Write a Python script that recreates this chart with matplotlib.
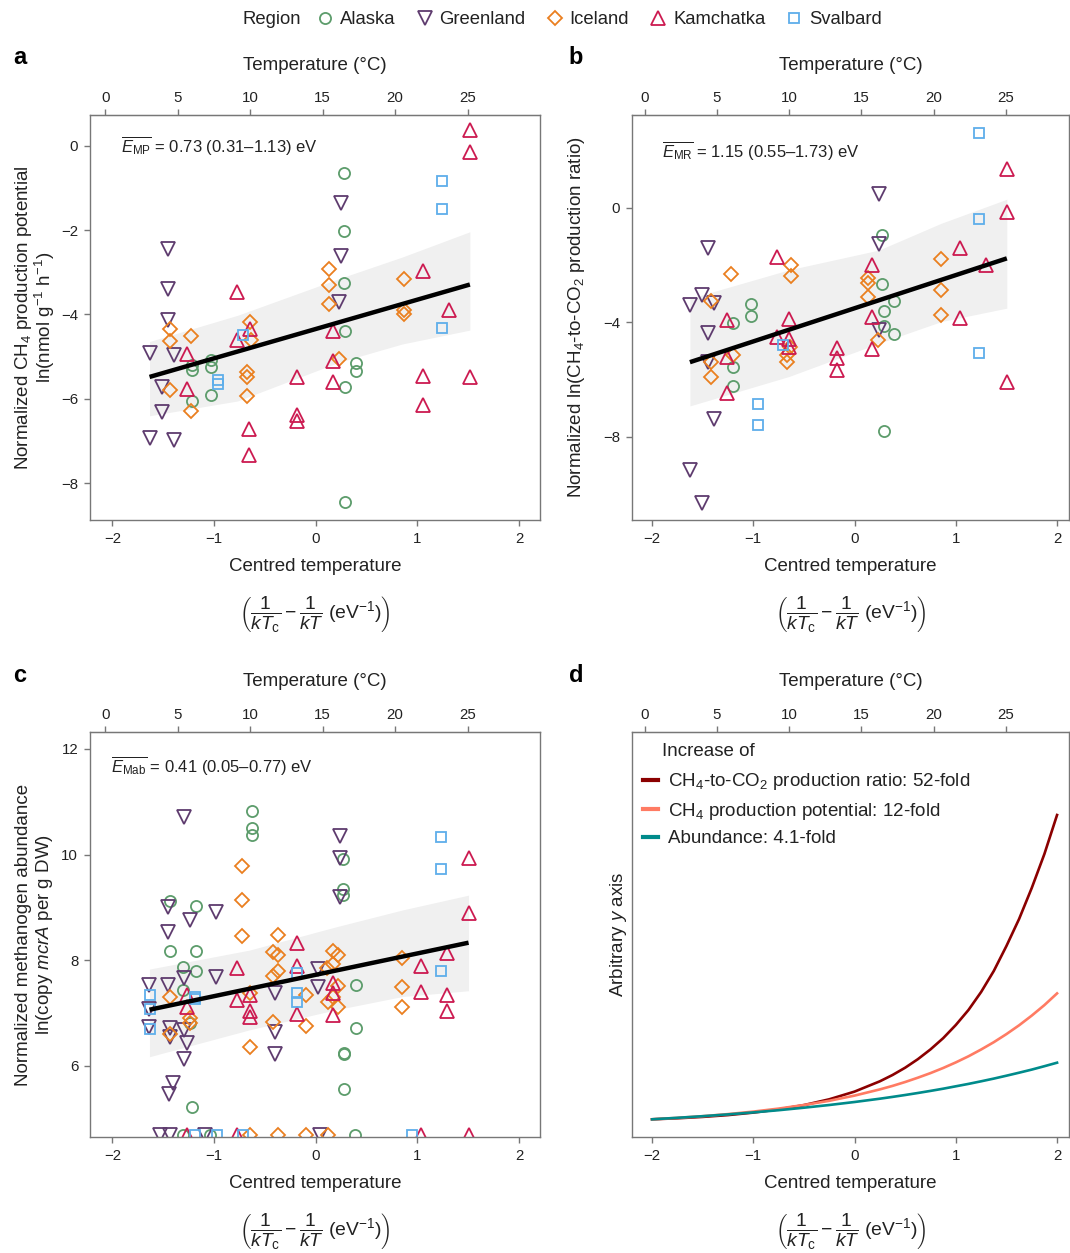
import numpy as np
import matplotlib
matplotlib.use("Agg")
import matplotlib.pyplot as plt
from matplotlib.lines import Line2D

plt.rcParams['font.family'] = ['Liberation Sans', 'DejaVu Sans']
plt.rcParams['mathtext.fontset'] = 'custom'
plt.rcParams['mathtext.rm'] = 'Liberation Sans'
plt.rcParams['mathtext.it'] = 'Liberation Sans:italic'
plt.rcParams['mathtext.bf'] = 'Liberation Sans:bold'

# ---------------- data ----------------
regions = ['Alaska', 'Greenland', 'Iceland', 'Kamchatka', 'Svalbard']

# panel a: CH4 production potential
a_alaska_x = [0.279, 0.279, 0.279, 0.289, 0.394, 0.394, 0.289, 0.289, -1.215, -1.215, -1.034, -1.034, -1.034, -1.215]
a_alaska_y = [-0.65, -2.02, -3.25, -4.40, -5.16, -5.33, -5.73, -8.45, -5.19, -5.31, -5.08, -5.24, -5.90, -6.06]
a_greenland_x = [-1.455, -1.455, -1.455, -1.635, -1.396, -1.517, -1.517, -1.635, -1.396, 0.246, 0.246, 0.230]
a_greenland_y = [-2.46, -3.40, -4.14, -4.92, -4.95, -5.71, -6.30, -6.92, -6.98, -1.36, -2.61, -3.71]
a_iceland_x = [-1.429, -1.429, -1.232, -1.429, -1.232, -0.647, -0.637, -0.673, -0.673, -0.673, 0.131, 0.131, 0.131, 0.230, 0.864, 0.864, 0.864]
a_iceland_y = [-4.34, -4.62, -4.52, -5.79, -6.29, -4.18, -4.60, -5.36, -5.47, -5.93, -2.93, -3.29, -3.75, -5.06, -3.15, -3.89, -4.00]
a_kamchatka_x = [1.517, 1.517, 1.051, 1.307, -0.772, -0.647, -0.772, -1.271, -1.271, -0.660, -0.660, -0.181, -0.181, -0.181, 0.174, 0.174, 0.174, 1.051, 1.051, 1.517]
a_kamchatka_y = [0.36, -0.14, -2.97, -3.90, -3.47, -4.34, -4.60, -4.94, -5.77, -6.71, -7.32, -5.49, -6.38, -6.52, -4.38, -5.11, -5.61, -5.45, -6.14, -5.47]
a_svalbard_x = [1.241, 1.241, 1.241, -0.712, -0.959, -0.959]
a_svalbard_y = [-0.83, -1.51, -4.32, -4.48, -5.56, -5.65]
a_fit_x = [-1.635, 1.517]
a_fit_y = [-5.48, -3.29]
a_band_x = [-1.635, -0.77, 0.23, 0.85, 1.517]
a_band_hi = [-4.64, -4.02, -3.15, -2.64, -2.04]
a_band_lo = [-6.40, -6.05, -5.13, -4.70, -4.37]

# panel b: CH4-to-CO2 production ratio
b_alaska_x = [0.273, 0.273, 0.394, 0.289, 0.289, 0.394, 0.289, -1.025, -1.025, -1.205, -1.205, -1.205]
b_alaska_y = [-0.95, -2.66, -3.26, -3.61, -4.13, -4.41, -7.80, -3.36, -3.78, -4.04, -5.56, -6.25]
b_greenland_x = [-1.445, -1.506, -1.626, -1.386, -1.445, -1.445, -1.386, -1.626, -1.506, 0.240, 0.240, 0.240]
b_greenland_y = [-1.42, -3.05, -3.40, -3.34, -4.37, -5.38, -7.40, -9.17, -10.31, 0.47, -1.28, -4.27]
b_iceland_x = [-1.222, -1.419, -1.419, -1.419, -1.205, -0.631, -0.631, -0.637, -0.663, -0.663, 0.131, 0.131, 0.131, 0.230, 0.857, 0.857, 0.857]
b_iceland_y = [-2.31, -3.25, -5.38, -5.91, -5.15, -2.00, -2.37, -4.86, -5.15, -5.38, -2.47, -2.64, -3.11, -4.62, -1.79, -2.87, -3.75]
b_kamchatka_x = [1.504, 1.504, 1.044, 1.300, 1.044, 1.504, -0.762, -0.647, -0.762, -0.647, -0.647, -1.261, -1.261, -1.261, -0.177, -0.177, -0.177, 0.174, 0.174, 0.174]
b_kamchatka_y = [1.35, -0.14, -1.42, -2.00, -3.86, -6.08, -1.71, -3.90, -4.53, -4.60, -4.86, -3.92, -5.23, -6.49, -4.91, -5.26, -5.67, -2.00, -3.83, -4.95]
b_svalbard_x = [1.232, 1.232, 1.232, -0.706, -0.952, -0.952]
b_svalbard_y = [2.63, -0.40, -5.07, -4.80, -6.87, -7.59]
b_fit_x = [-1.626, 1.504]
b_fit_y = [-5.40, -1.77]
b_band_x = [-1.626, -0.647, 0.24, 0.857, 1.504]
b_band_hi = [-3.17, -2.17, -1.48, -0.54, 0.30]
b_band_lo = [-6.93, -5.90, -4.74, -3.98, -3.51]

# panel c: methanogen abundance (4.68 = points below the axis floor)
c_alaska_x = [-0.628, -0.628, -0.628, 0.271, 0.271, 0.271, 0.393, 0.393, 0.281, 0.281, 0.281, -1.430, -1.175, -1.430, -1.175, -1.305, -1.175, -1.305, -1.234, -1.217, -1.305, -1.037, 0.389]
c_alaska_y = [10.83, 10.51, 10.37, 9.91, 9.34, 9.23, 7.52, 6.71, 6.24, 6.22, 5.56, 9.11, 9.03, 8.17, 8.17, 7.87, 7.80, 7.44, 6.80, 5.21, 4.68, 4.68, 4.68]
c_greenland_x = [-1.292, 0.238, 0.238, 0.238, -1.456, -1.234, -0.978, -1.456, -1.292, -0.978, -1.456, -1.636, 0.026, 0.026, -0.399, -1.636, -1.636, -1.430, -1.292, -1.430, -1.266, -1.292, -0.399, -0.399, -1.404, -1.447, -1.528, -1.430, -1.086, 0.042]
c_greenland_y = [10.71, 10.35, 9.93, 9.19, 9.01, 8.76, 8.92, 8.53, 7.67, 7.68, 7.53, 7.53, 7.83, 7.50, 7.37, 7.07, 6.73, 6.71, 6.68, 6.55, 6.43, 6.12, 6.63, 6.22, 5.68, 5.47, 4.68, 4.68, 4.68, 4.68]
c_iceland_x = [-0.726, -0.726, -0.726, -0.367, -0.416, -0.367, -0.367, -0.416, 0.167, 0.222, 0.167, 0.108, 0.222, 0.167, 0.124, 0.222, -0.095, -0.095, -0.416, -0.645, -0.651, -1.430, -1.430, -1.234, -1.234, 0.854, 0.854, 0.854, -0.645, -0.367, -0.095, 0.124]
c_iceland_y = [9.78, 9.14, 8.46, 8.47, 8.16, 8.09, 7.80, 7.69, 8.18, 8.09, 7.92, 7.85, 7.51, 7.31, 7.21, 7.12, 7.34, 6.75, 6.82, 6.35, 7.37, 7.31, 6.60, 6.90, 6.80, 8.04, 7.49, 7.12, 4.68, 4.68, 4.68, 4.68]
c_kamchatka_x = [1.504, 1.504, 1.295, 1.040, 1.040, 1.295, 1.295, -0.187, -0.187, -0.187, 0.167, 0.167, 0.167, -0.775, -0.775, -0.651, -0.651, -0.651, -1.266, -1.266, -1.266, -0.775, 1.040, 1.504]
c_kamchatka_y = [9.93, 8.89, 8.14, 7.88, 7.40, 7.34, 7.04, 8.32, 7.88, 6.98, 7.56, 7.37, 6.96, 7.86, 7.25, 7.34, 7.03, 6.92, 7.34, 7.12, 4.68, 4.68, 4.68, 4.68]
c_svalbard_x = [1.230, 1.230, 1.230, -0.187, -0.187, -0.187, -1.626, -1.626, -1.626, -1.191, -1.191, -1.191, -0.972, -0.719, 0.952]
c_svalbard_y = [10.33, 9.72, 7.80, 7.75, 7.38, 7.21, 7.34, 7.07, 6.70, 7.31, 7.26, 4.68, 4.68, 4.68, 4.68]
c_fit_x = [-1.636, 1.504]
c_fit_y = [7.06, 8.33]
c_band_x = [-1.636, -0.651, 0.2, 0.854, 1.504]
c_band_hi = [7.83, 8.19, 8.63, 8.95, 9.23]
c_band_lo = [6.17, 6.68, 7.06, 7.31, 7.42]

# panel d: relative increase curves (arbitrary units)
d_x = [-2, -1.75, -1.5, -1.25, -1, -0.75, -0.5, -0.25, 0, 0.25, 0.375, 0.5, 0.625, 0.75, 0.875, 1,
       1.125, 1.25, 1.375, 1.5, 1.625, 1.75, 1.875, 2]
d_ratio = [17.7, 18.7, 20.1, 21.9, 24.4, 27.6, 31.9, 37.7, 45.4, 55.7, 62.0, 69.3, 77.8, 87.6, 98.8, 112,
           127, 145, 166, 191, 218, 249, 283, 322]
d_potential = [17.7, 19.1, 20.8, 22.9, 25.4, 28.4, 32.0, 36.2, 41.4, 47.6, 51.1, 55.0, 59.3, 63.9, 69.0, 74.6,
               80.7, 87.5, 94.8, 102.9, 111.7, 121.4, 131.9, 143.6]
d_abundance = [17.7, 19.2, 20.8, 22.6, 24.6, 26.8, 29.3, 32.0, 35.0, 38.3, 40.1, 42.0, 44.0, 46.1, 48.3, 50.7,
               53.1, 55.7, 58.4, 61.3, 64.3, 67.4, 70.8, 74.3]
d_labels = [r'CH$_4$-to-CO$_2$ production ratio: 52-fold',
            r'CH$_4$ production potential: 12-fold',
            'Abundance: 4.1-fold']

x_ticks = [-2, -1, 0, 1, 2]
temp_ticks = [0, 5, 10, 15, 20, 25]
T_INTERCEPT = -2.072
T_SLOPE = 0.1427

# ---------------- style ----------------
colors = {'Alaska': '#5c9c6b', 'Greenland': '#5e3b6e', 'Iceland': '#ea7f1f',
          'Kamchatka': '#cc1a50', 'Svalbard': '#5eaeea'}
markers = {'Alaska': 'o', 'Greenland': 'v', 'Iceland': 'D', 'Kamchatka': '^', 'Svalbard': 's'}
msizes = {'Alaska': 8.0, 'Greenland': 9.5, 'Iceland': 6.9, 'Kamchatka': 9.5, 'Svalbard': 7.3}
d_colors = ['#8b0000', '#ff7b63', '#008b8b']
SPINE = '#777777'
TXT = '#222222'
LBL = 13.5
TCK = 10.8

W, H = 1070, 1253
fig = plt.figure(figsize=(W / 100, H / 100), dpi=100)


def box(left, top, right, bottom):
    return [left / W, 1 - bottom / H, (right - left) / W, (bottom - top) / H]


ax_a = fig.add_axes(box(90, 115, 540, 520))
ax_b = fig.add_axes(box(632, 115, 1069, 520))
ax_c = fig.add_axes(box(90, 732, 540, 1137))
ax_d = fig.add_axes(box(632, 732, 1069, 1137))


def c2t(x):
    return (np.asarray(x) - T_INTERCEPT) / T_SLOPE


def t2c(t):
    return T_INTERCEPT + T_SLOPE * np.asarray(t)


def style_axes(ax, xlim, ylim, yticks):
    ax.set_xlim(*xlim)
    ax.set_ylim(*ylim)
    ax.set_xticks(x_ticks)
    if yticks is None:
        ax.set_yticks([])
    else:
        ax.set_yticks(yticks)
    for s in ax.spines.values():
        s.set_color(SPINE)
        s.set_linewidth(1.0)
    ax.tick_params(direction='out', length=4.5, width=1.0, color=SPINE,
                   labelsize=TCK, labelcolor=TXT, pad=4)
    ax.set_xlabel('Centred temperature', fontsize=LBL, color=TXT)
    ax.xaxis.set_label_coords(0.5, -0.093)
    ax.text(0.5, -0.232, r'$\left(\dfrac{1}{kT_{\mathrm{c}}}-\dfrac{1}{kT}\ (\mathrm{eV}^{-1})\right)$',
            transform=ax.transAxes, ha='center', va='center', fontsize=13.9, color=TXT)
    sec = ax.secondary_xaxis('top', functions=(c2t, t2c))
    sec.set_xticks(temp_ticks)
    sec.tick_params(direction='out', length=4.5, width=1.0, color=SPINE,
                    labelsize=TCK, labelcolor=TXT, pad=3)
    sec.spines['top'].set_color(SPINE)
    ax.text(0.5, 1 + 50 / 405, 'Temperature (°C)', transform=ax.transAxes,
            ha='center', va='center', fontsize=LBL, color=TXT)


def scatter_panel(ax, data, fit_x, fit_y, band_x, band_lo, band_hi):
    ax.fill_between(band_x, band_lo, band_hi, color='#f0f0f0', lw=0, zorder=1)
    for reg in regions:
        xs, ys = data[reg]
        ax.plot(xs, ys, ls='none', marker=markers[reg], ms=msizes[reg], mfc='none',
                mec=colors[reg], mew=1.3, zorder=2, clip_on=True)
    ax.plot(fit_x, fit_y, color='black', lw=3.2, zorder=3, solid_capstyle='butt')


scatter_panel(ax_a, {'Alaska': (a_alaska_x, a_alaska_y), 'Greenland': (a_greenland_x, a_greenland_y),
                     'Iceland': (a_iceland_x, a_iceland_y), 'Kamchatka': (a_kamchatka_x, a_kamchatka_y),
                     'Svalbard': (a_svalbard_x, a_svalbard_y)},
              a_fit_x, a_fit_y, a_band_x, a_band_lo, a_band_hi)
style_axes(ax_a, (-2.221, 2.207), (-8.87, 0.727), [0, -2, -4, -6, -8])
ax_a.set_ylabel('Normalized CH$_4$ production potential\nln(nmol g$^{-1}$ h$^{-1}$)',
                fontsize=LBL, color=TXT, linespacing=0.95)
ax_a.yaxis.set_label_coords(-0.073, 0.5)
ax_a.text(0.068, 0.923, r'$\overline{E_{\mathrm{MP}}}$ = 0.73 (0.31–1.13) eV', transform=ax_a.transAxes,
          ha='left', va='center', fontsize=12, color=TXT)

scatter_panel(ax_b, {'Alaska': (b_alaska_x, b_alaska_y), 'Greenland': (b_greenland_x, b_greenland_y),
                     'Iceland': (b_iceland_x, b_iceland_y), 'Kamchatka': (b_kamchatka_x, b_kamchatka_y),
                     'Svalbard': (b_svalbard_x, b_svalbard_y)},
              b_fit_x, b_fit_y, b_band_x, b_band_lo, b_band_hi)
style_axes(ax_b, (-2.198, 2.118), (-10.92, 3.245), [0, -4, -8])
ax_b.set_ylabel('Normalized ln(CH$_4$-to-CO$_2$ production ratio)', fontsize=LBL, color=TXT)
ax_b.yaxis.set_label_coords(-0.103, 0.5)
ax_b.text(0.069, 0.911, r'$\overline{E_{\mathrm{MR}}}$ = 1.15 (0.55–1.73) eV', transform=ax_b.transAxes,
          ha='left', va='center', fontsize=12, color=TXT)

scatter_panel(ax_c, {'Alaska': (c_alaska_x, c_alaska_y), 'Greenland': (c_greenland_x, c_greenland_y),
                     'Iceland': (c_iceland_x, c_iceland_y), 'Kamchatka': (c_kamchatka_x, c_kamchatka_y),
                     'Svalbard': (c_svalbard_x, c_svalbard_y)},
              c_fit_x, c_fit_y, c_band_x, c_band_lo, c_band_hi)
style_axes(ax_c, (-2.221, 2.207), (4.65, 12.32), [6, 8, 10, 12])
ax_c.set_ylabel('Normalized methanogen abundance\nln(copy $\\mathit{mcrA}$ per g DW)',
                fontsize=LBL, color=TXT, linespacing=1.15)
ax_c.yaxis.set_label_coords(-0.078, 0.5)
ax_c.text(0.047, 0.914, r'$\overline{E_{\mathrm{Mab}}}$ = 0.41 (0.05–0.77) eV', transform=ax_c.transAxes,
          ha='left', va='center', fontsize=12, color=TXT)

# panel d
for ys, col in zip([d_ratio, d_potential, d_abundance], d_colors):
    ax_d.plot(d_x, ys, color=col, lw=1.9)
style_axes(ax_d, (-2.198, 2.118), (0, 405), None)
ax_d.set_ylabel('Arbitrary $y$ axis', fontsize=LBL, color=TXT)
ax_d.yaxis.set_label_coords(-0.008, 0.5)
ax_d.text(30 / 437, 1 - 19 / 405, 'Increase of', transform=ax_d.transAxes,
          ha='left', va='center', fontsize=LBL, color=TXT)
d_handles = [Line2D([], [], color=c, lw=3) for c in d_colors]
ax_d.legend(d_handles, d_labels, loc='upper left', bbox_to_anchor=(0.025, 0.903),
            frameon=False, fontsize=LBL, handlelength=0.8, handletextpad=0.55,
            labelspacing=0.45, borderaxespad=0, borderpad=0, labelcolor=TXT)

# top legend
fig.text(243 / W, 1 - 20 / H, 'Region', ha='left', va='center', fontsize=13.3, color=TXT)
leg_handles = [Line2D([], [], ls='none', marker=markers[r], ms=msizes[r], mfc='none',
                      mec=colors[r], mew=1.3) for r in regions]
fig.legend(leg_handles, regions, loc='center left', bbox_to_anchor=(316 / W, 1 - 20 / H),
           ncol=5, frameon=False, fontsize=13.3, handlelength=1.0, handletextpad=0.3,
           columnspacing=1.08, borderaxespad=0, borderpad=0, labelcolor=TXT)

# panel letters
for letter, (px, py) in zip('abcd', [(20, 57), (576, 57), (20, 675), (576, 675)]):
    fig.text(px / W, 1 - py / H, letter, ha='center', va='center', fontsize=17,
             fontweight='bold', color='black')

fig.savefig('out.png', dpi=100)
